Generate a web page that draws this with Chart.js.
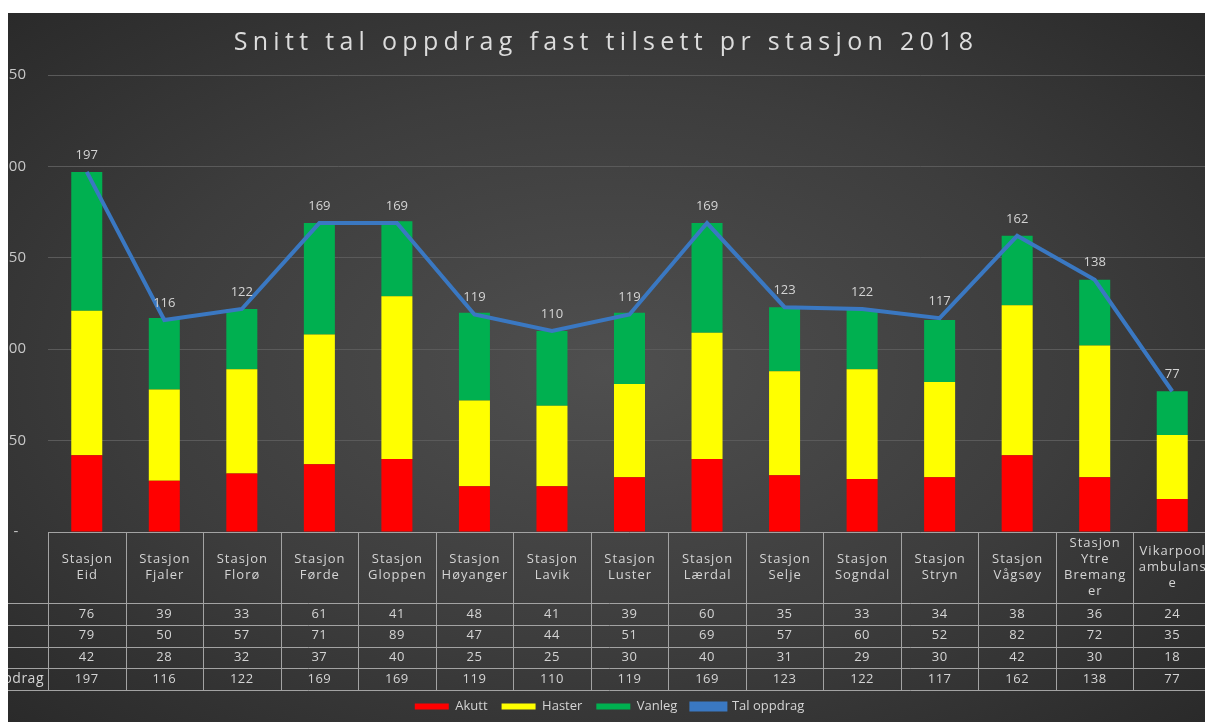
<!DOCTYPE html>
<html>
<head>
<meta charset="utf-8">
<script src="https://cdn.jsdelivr.net/npm/chart.js@4.4.1/dist/chart.umd.min.js"></script>
<style>
  html, body { margin: 0; background: #fff; }
  #wrap {
    position: absolute; left: 8px; top: 13px; width: 1197px; height: 709px; overflow: hidden;
    background: radial-gradient(ellipse at 50% 50%, #4f4f4f 0%, #3d3d3d 55%, #2a2a2a 100%);
  }
  #myChart { position: absolute; left: 0; top: 0; }
</style>
</head>
<body>
<div id="wrap"><canvas id="myChart" width="1203" height="709"></canvas></div>
<script>
const chartTitle = "Snitt tal oppdrag fast tilsett pr stasjon 2018";
const stations = [
  ["Stasjon", "Eid"], ["Stasjon", "Fjaler"], ["Stasjon", "Florø"], ["Stasjon", "Førde"],
  ["Stasjon", "Gloppen"], ["Stasjon", "Høyanger"], ["Stasjon", "Lavik"], ["Stasjon", "Luster"],
  ["Stasjon", "Lærdal"], ["Stasjon", "Selje"], ["Stasjon", "Sogndal"], ["Stasjon", "Stryn"],
  ["Stasjon", "Vågsøy"], ["Stasjon", "Ytre", "Bremang", "er"], ["Vikarpool", "ambulans", "e"]
];
const vanleg = [76, 39, 33, 61, 41, 48, 41, 39, 60, 35, 33, 34, 38, 36, 24];
const haster = [79, 50, 57, 71, 89, 47, 44, 51, 69, 57, 60, 52, 82, 72, 35];
const akutt = [42, 28, 32, 37, 40, 25, 25, 30, 40, 31, 29, 30, 42, 30, 18];
const talOppdrag = [197, 116, 122, 169, 169, 119, 110, 119, 169, 123, 122, 117, 162, 138, 77];

const textColor = "#d4d4d4";
const fontFamily = '"Open Sans", "Noto Sans", sans-serif';

// data table under the plot, drawn in the space of the x axis
const tablePlugin = {
  id: "dataTable",
  afterDraw(chart) {
    const ctx = chart.ctx;
    const area = chart.chartArea;
    const xs = chart.scales.x;
    const n = stations.length;
    const colW = (area.right - area.left) / n;
    const top = area.bottom;
    const headH = 71, rowH = 21.75;
    const rows = [["Vanleg", vanleg], ["Haster", haster], ["Akutt", akutt], ["Tal oppdrag", talOppdrag]];
    const bottom = top + headH + rows.length * rowH;

    ctx.save();
    ctx.strokeStyle = "#a3a3a3";
    ctx.lineWidth = 1;
    ctx.beginPath();
    ctx.moveTo(area.left, Math.round(top) + 0.5);
    ctx.lineTo(chart.width, Math.round(top) + 0.5);
    for (let r = 0; r <= rows.length; r++) {
      const y = Math.round(top + headH + r * rowH) + 0.5;
      ctx.moveTo(0, y);
      ctx.lineTo(chart.width, y);
    }
    for (let i = 0; i <= n; i++) {
      const x = Math.round(area.left + i * colW) + 0.5;
      ctx.moveTo(x, top);
      ctx.lineTo(x, bottom);
    }
    ctx.stroke();

    ctx.fillStyle = textColor;
    ctx.font = "13px " + fontFamily;
    ctx.textAlign = "center";
    ctx.textBaseline = "middle";
    stations.forEach((lines, i) => {
      const cx = xs.getPixelForValue(i);
      const lh = 16;
      const y0 = top + headH / 2 - (lines.length - 1) * lh / 2;
      ctx.letterSpacing = "1px";
      lines.forEach((t, k) => ctx.fillText(t, cx + 0.5, y0 + k * lh));
      ctx.letterSpacing = "0.5px";
      rows.forEach((row, r) => ctx.fillText(String(row[1][i]), cx, top + headH + (r + 0.5) * rowH));
    });

    ctx.textAlign = "left";
    ctx.font = "14px " + fontFamily;
    const lx = area.left - 4 - ctx.measureText("Tal oppdrag").width;
    rows.forEach((row, r) => ctx.fillText(row[0], lx, top + headH + (r + 0.5) * rowH));
    ctx.restore();
  }
};

const titlePlugin = {
  id: "bigTitle",
  afterDraw(chart) {
    const ctx = chart.ctx;
    ctx.save();
    ctx.font = "25px " + fontFamily;
    ctx.letterSpacing = "5.3px";
    ctx.fillStyle = "#dcdcdc";
    ctx.textAlign = "center";
    ctx.textBaseline = "middle";
    ctx.fillText(chartTitle, 598, 30);
    ctx.restore();
  }
};

const lineLabels = {
  id: "lineLabels",
  afterDatasetsDraw(chart) {
    const ctx = chart.ctx;
    const meta = chart.getDatasetMeta(3);
    ctx.save();
    ctx.font = "13px " + fontFamily;
    ctx.fillStyle = textColor;
    ctx.textAlign = "center";
    ctx.textBaseline = "middle";
    meta.data.forEach((pt, i) => ctx.fillText(String(talOppdrag[i]), pt.x, pt.y - 17));
    ctx.restore();
  }
};

let ctx = document.getElementById("myChart");
let myChart = new Chart(ctx, {
  data: {
    labels: stations.map(s => s.join(" ")),
    datasets: [
      { type: "bar", label: "Akutt", data: akutt, backgroundColor: "#ff0000", stack: "a" },
      { type: "bar", label: "Haster", data: haster, backgroundColor: "#ffff00", stack: "a" },
      { type: "bar", label: "Vanleg", data: vanleg, backgroundColor: "#00b050", stack: "a" },
      {
        type: "line", label: "Tal oppdrag", data: talOppdrag, stack: "b", order: -1,
        borderColor: "#3a78c2", backgroundColor: "#3a78c2", borderWidth: 4,
        pointRadius: 0, tension: 0, fill: false
      }
    ]
  },
  options: {
    responsive: false,
    animation: false,
    layout: { padding: { top: 62, bottom: -1, left: 0, right: 0 } },
    datasets: { bar: { barPercentage: 0.4, categoryPercentage: 1.0, borderWidth: 0 } },
    scales: {
      x: {
        stacked: true,
        grid: { display: false },
        border: { display: false },
        ticks: { display: false },
        afterFit(scale) { scale.height = 154; }
      },
      y: {
        stacked: true,
        min: 0,
        max: 250,
        ticks: {
          stepSize: 50,
          padding: 22,
          color: "#c8c8c8",
          font: { family: fontFamily, size: 15 },
          callback: v => (v === 0 ? "-  " : v)
        },
        grid: { color: "#5a5a5a", drawTicks: false },
        border: { display: false },
        afterFit(scale) { scale.width = 40; }
      }
    },
    plugins: {
      title: { display: false },
      tooltip: { enabled: false },
      legend: {
        position: "bottom",
        labels: {
          color: textColor,
          font: { family: fontFamily, size: 13 },
          boxWidth: 34,
          boxHeight: 6,
          padding: 14,
          sort: (a, b) => a.datasetIndex - b.datasetIndex
        }
      }
    }
  },
  plugins: [tablePlugin, titlePlugin, lineLabels]
});
</script>
</body>
</html>
